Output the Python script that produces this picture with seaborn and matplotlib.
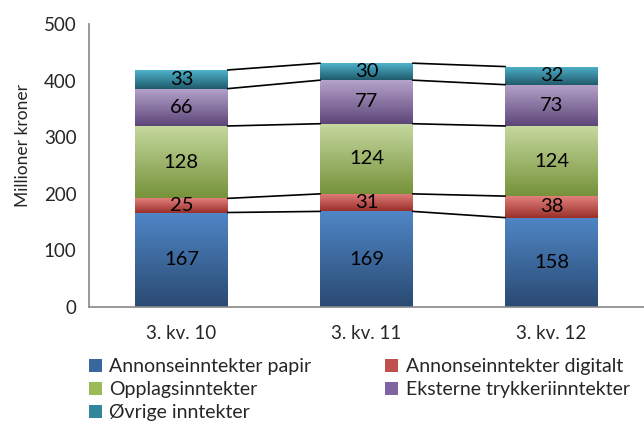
import numpy as np
import pandas as pd
import matplotlib
matplotlib.use("Agg")
import matplotlib.pyplot as plt
import seaborn as sns
from matplotlib.colors import LinearSegmentedColormap
from matplotlib.patches import Patch

quarters = ["3. kv. 10", "3. kv. 11", "3. kv. 12"]
series = ["Annonseinntekter papir", "Annonseinntekter digitalt", "Opplagsinntekter",
          "Eksterne trykkeriinntekter", "Øvrige inntekter"]
papir = [167, 169, 158]
digitalt = [25, 31, 38]
opplag = [128, 124, 124]
trykkeri = [66, 77, 73]
ovrige = [33, 30, 32]

# (top colour, bottom colour) for the gradient of each series
grad_colors = [("#4f86c6", "#2a4a72"), ("#e2807c", "#9a2f2b"), ("#c6d9a0", "#76923a"),
               ("#b5a3cb", "#5d4678"), ("#4fb3cc", "#1f5a6b")]
legend_colors = ["#3a66a0", "#c0504d", "#9bbb59", "#8064a2", "#31869b"]

values = [papir, digitalt, opplag, trykkeri, ovrige]
df = pd.DataFrame({"quarter": np.repeat(quarters, len(series)),
                   "series": series * len(quarters),
                   "value": [values[j][i] for i in range(len(quarters)) for j in range(len(series))]})

sns.set_style("white")
plt.rcParams["font.family"] = ["Lato", "DejaVu Sans"]

fig = plt.figure(figsize=(6.44, 4.24), dpi=100)
ax = fig.add_axes([0.138, 0.276, 0.862, 0.667])

bottom = np.zeros(len(quarters))
cum_tops = []
for j, name in enumerate(series):
    sub = df[df["series"] == name]
    n_before = len(ax.patches)
    sns.barplot(data=sub, x="quarter", y="value", order=quarters, bottom=bottom,
                width=0.5, color=legend_colors[j], ax=ax, errorbar=None)
    patches = ax.patches[n_before:]
    cmap = LinearSegmentedColormap.from_list("g", [grad_colors[j][1], grad_colors[j][0]])
    grad = np.linspace(0, 1, 256).reshape(-1, 1)
    for p in patches:
        x0, y0 = p.get_x(), p.get_y()
        w, h = p.get_width(), p.get_height()
        im = ax.imshow(grad, extent=[x0, x0 + w, y0, y0 + h], origin="lower",
                       cmap=cmap, aspect="auto", zorder=2)
        im.set_clip_path(p)
        p.set_facecolor("none")
        p.set_edgecolor("none")
    for i, v in enumerate(sub["value"].values):
        ax.text(i, bottom[i] + v / 2, str(v), ha="center", va="center",
                fontsize=14.5, color="black", zorder=4)
    bottom = bottom + sub["value"].values
    cum_tops.append(bottom.copy())

# series lines between bars
for tops in cum_tops:
    for i in range(len(quarters) - 1):
        ax.plot([i + 0.25, i + 0.75], [tops[i], tops[i + 1]], color="black", lw=1.2, zorder=3)

ax.set_xlim(-0.5, 2.5)
ax.set_ylim(0, 500)
ax.set_yticks(range(0, 501, 100))
ax.set_xticks(range(len(quarters)))
ax.set_xticklabels(quarters)
ax.set_xticks([0.5, 1.5], minor=True)
ax.tick_params(axis="x", which="major", length=0, labelsize=13.5, pad=13)
ax.tick_params(axis="x", which="minor", length=5, color="#888888", direction="out")
ax.tick_params(axis="y", length=5, color="#888888", direction="out", labelsize=13.5, pad=4)
ax.set_xlabel("")
ax.set_ylabel("Millioner kroner", fontsize=12.5)
ax.yaxis.set_label_coords(-0.105, 0.57)
for s in ["top", "right"]:
    ax.spines[s].set_visible(False)
for s in ["left", "bottom"]:
    ax.spines[s].set_color("#888888")
    ax.spines[s].set_linewidth(1.2)

handles = [Patch(facecolor=c, edgecolor="none") for c in legend_colors]
order = [0, 2, 4, 1, 3]
leg = fig.legend([handles[k] for k in order], [series[k] for k in order],
                 loc="upper left", bbox_to_anchor=(0.138, 0.155), ncol=2, frameon=False,
                 fontsize=14, handlelength=0.65, handleheight=0.65, handletextpad=0.4,
                 columnspacing=3.8, labelspacing=0.3, borderaxespad=0, borderpad=0)

fig.savefig("out.png", dpi=100)
